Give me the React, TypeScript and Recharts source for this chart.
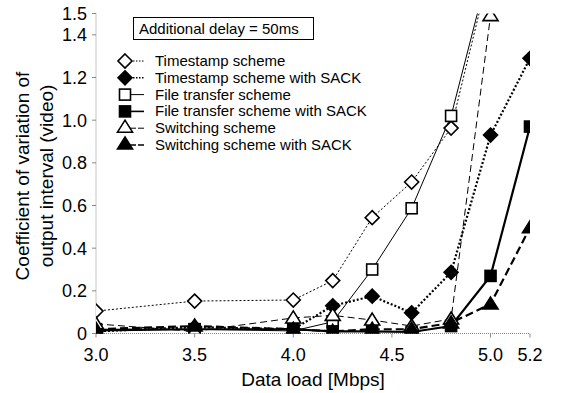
import React from 'react';
import { LineChart, Line, XAxis, YAxis, Legend } from 'recharts';

// Data load [Mbps]
const loads = [3.0, 3.5, 4.0, 4.2, 4.4, 4.6, 4.8, 5.0, 5.2];

// coefficient of variation of output interval (video), additional delay = 50ms
const timestamp = [0.105, 0.152, 0.157, 0.248, 0.543, 0.71, 0.963, 1.72, null];
const timestampSack = [0.01, 0.03, 0.02, 0.13, 0.175, 0.097, 0.287, 0.93, 1.29];
const fileTransfer = [0.02, 0.02, 0.012, 0.055, 0.3, 0.587, 1.02, 1.74, null];
const fileTransferSack = [0.015, 0.02, 0.02, 0.01, 0.01, 0.007, 0.035, 0.27, 0.97];
const switching = [0.045, 0.01, 0.073, 0.085, 0.063, 0.035, 0.068, 1.49, null];
const switchingSack = [0.02, 0.035, 0.02, 0.01, 0.02, 0.02, 0.05, 0.138, 0.496];

const xTicks = [3.0, 3.5, 4.0, 4.5, 5.0, 5.2];
const yTicks = [0, 0.2, 0.4, 0.6, 0.8, 1.0, 1.2, 1.4, 1.5];

const data = loads.map((x, i) => ({
  x,
  ts: timestamp[i],
  tsSack: timestampSack[i],
  ft: fileTransfer[i],
  ftSack: fileTransferSack[i],
  sw: switching[i],
  swSack: switchingSack[i],
}));

const FONT = '"Liberation Sans", Arial, Helvetica, sans-serif';
const Y_MAX = 1.5;

type Kind = 'diamond' | 'square' | 'triangle';

const marker = (kind: Kind, filled: boolean, cx: number, cy: number, key?: string) => {
  const fill = filled ? '#000' : '#fff';
  if (kind === 'diamond') {
    const r = 7;
    return (
      <path key={key} d={`M${cx},${cy - r}L${cx + r},${cy}L${cx},${cy + r}L${cx - r},${cy}Z`}
        fill={fill} stroke="#000" strokeWidth={1.6} />
    );
  }
  if (kind === 'square') {
    const r = 5.5;
    return <rect key={key} x={cx - r} y={cy - r} width={2 * r} height={2 * r} fill={fill} stroke="#000" strokeWidth={1.6} />;
  }
  return (
    <path key={key} d={`M${cx},${cy - 7}L${cx + 7.5},${cy + 5}L${cx - 7.5},${cy + 5}Z`}
      fill={fill} stroke="#000" strokeWidth={1.6} />
  );
};

const makeDot = (kind: Kind, filled: boolean) => (props: any) => {
  const { cx, cy, value, index, dataKey } = props;
  if (value == null || value > Y_MAX || cx == null || cy == null) return <g key={`${dataKey}-${index}`} />;
  return marker(kind, filled, cx, cy, `${dataKey}-${index}`);
};

const series = [
  { key: 'ts', name: 'Timestamp scheme', kind: 'diamond' as Kind, filled: false, width: 1, dash: '2 2' },
  { key: 'tsSack', name: 'Timestamp scheme with SACK', kind: 'diamond' as Kind, filled: true, width: 2.2, dash: '2 2' },
  { key: 'ft', name: 'File transfer scheme', kind: 'square' as Kind, filled: false, width: 1, dash: undefined },
  { key: 'ftSack', name: 'File transfer scheme with SACK', kind: 'square' as Kind, filled: true, width: 2.2, dash: undefined },
  { key: 'sw', name: 'Switching scheme', kind: 'triangle' as Kind, filled: false, width: 1, dash: '7 4' },
  { key: 'swSack', name: 'Switching scheme with SACK', kind: 'triangle' as Kind, filled: true, width: 2.2, dash: '8 4' },
];

const renderLegend = () => (
  <svg width={280} height={160} style={{ display: 'block' }}>
    <rect x={23.5} y={17.5} width={180} height={22} fill="#fff" stroke="#000" strokeWidth={1} />
    <text x={29} y={34} fontSize={15} fontFamily={FONT} fill="#000">Additional delay = 50ms</text>
    {series.map((s, i) => {
      const cy = 61 + i * 16.8;
      return (
        <g key={s.key}>
          <line x1={20} x2={34} y1={cy} y2={cy} stroke="#000" strokeWidth={s.width > 1 ? 1.6 : 1}
            strokeDasharray={s.dash ? (s.dash === '2 2' ? '1.5 1.5' : '6 2') : undefined} />
          {marker(s.kind, s.filled, 15, s.kind === 'triangle' ? cy - 1 : cy)}
          <text x={45} y={cy + 5} fontSize={15} fontFamily={FONT} fill="#000">{s.name}</text>
        </g>
      );
    })}
  </svg>
);

const YTitle = () => (
  <g>
    <text transform="translate(29,176) rotate(-90)" textAnchor="middle" fontSize={19} fontFamily={FONT} fill="#000">
      Coefficient of variation of
    </text>
    <text transform="translate(53,176) rotate(-90)" textAnchor="middle" fontSize={19} fontFamily={FONT} fill="#000">
      output interval (video)
    </text>
  </g>
);

export default function App() {
  return (
    <div style={{ position: 'absolute', left: 0, top: 0, width: 562, height: 393, background: '#fff' }}>
      <LineChart width={562} height={393} data={data} margin={{ top: 13.5, right: 32, bottom: 29.5, left: 46 }}>
        <XAxis
          dataKey="x"
          type="number"
          domain={[3.0, 5.2]}
          ticks={xTicks}
          allowDataOverflow
          tickFormatter={(v: number) => v.toFixed(1)}
          height={30}
          tickSize={4}
          tickMargin={11}
          axisLine={{ stroke: '#888', strokeDasharray: '1 1' }}
          tickLine={{ stroke: '#888' }}
          tick={{ fill: '#000', fontSize: 18, fontFamily: FONT }}
          label={{ value: 'Data load [Mbps]', position: 'insideBottom', offset: -22, fill: '#000', fontSize: 19, fontFamily: FONT }}
        />
        <YAxis
          type="number"
          domain={[0, Y_MAX]}
          ticks={yTicks}
          allowDataOverflow
          interval={0}
          tickFormatter={(v: number) => (v === 0 ? '0' : v.toFixed(1))}
          width={50}
          tickSize={4}
          tickMargin={5}
          axisLine={{ stroke: '#888', strokeDasharray: '1 1' }}
          tickLine={{ stroke: '#888' }}
          tick={{ fill: '#000', fontSize: 18, fontFamily: FONT }}
          label={<YTitle />}
        />
        <Legend
          content={renderLegend}
          layout="vertical"
          align="center"
          verticalAlign="middle"
          wrapperStyle={{ position: 'absolute', left: 110, top: 0, width: 280, height: 160 }}
        />
        {series.map((s) => (
          <Line
            key={s.key}
            dataKey={s.key}
            name={s.name}
            type="linear"
            stroke="#000"
            strokeWidth={s.width}
            strokeDasharray={s.dash}
            dot={makeDot(s.kind, s.filled)}
            activeDot={false}
            isAnimationActive={false}
          />
        ))}
      </LineChart>
    </div>
  );
}
